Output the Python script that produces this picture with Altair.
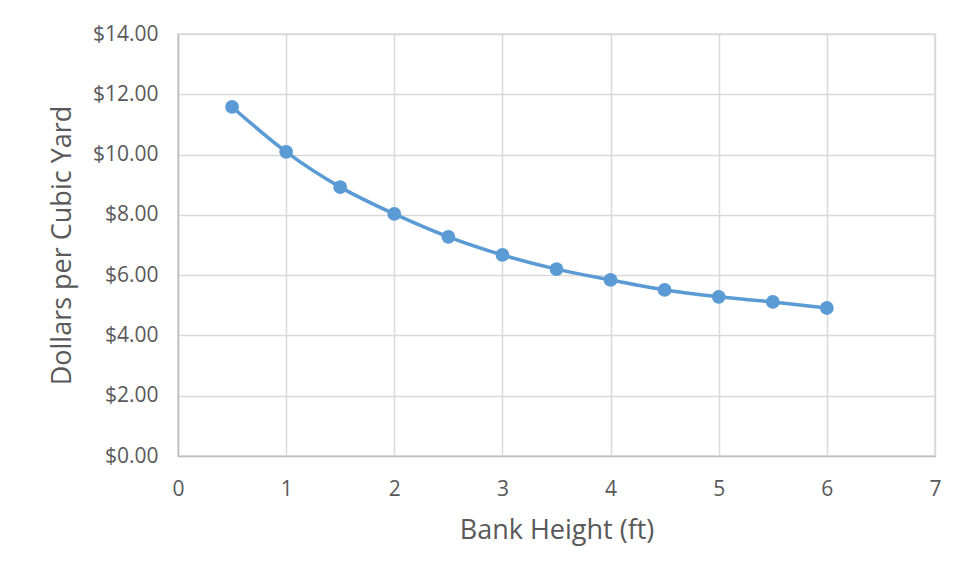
import altair as alt
import pandas as pd

bank_height = [0.5, 1.0, 1.5, 2.0, 2.5, 3.0, 3.5, 4.0, 4.5, 5.0, 5.5, 6.0]
dollars = [11.58, 10.09, 8.92, 8.03, 7.27, 6.67, 6.20, 5.84, 5.51, 5.28, 5.11, 4.91]

df = pd.DataFrame({"h": bank_height, "d": dollars})

FONT = "Open Sans"
BLUE = "#5B9BD5"

x = alt.X("h:Q", title="Bank Height (ft)",
          scale=alt.Scale(domain=[0, 7], nice=False, zero=True),
          axis=alt.Axis(values=[0, 1, 2, 3, 4, 5, 6, 7], format="d", grid=True,
                        ticks=False, labelPadding=22, titlePadding=18, labelFlush=False,
                        domainColor="#BFBFBF", domainWidth=1.5))
y = alt.Y("d:Q", title="Dollars per Cubic Yard",
          scale=alt.Scale(domain=[0, 14], nice=False),
          axis=alt.Axis(values=[0, 2, 4, 6, 8, 10, 12, 14], format="$.2f", grid=True,
                        ticks=False, labelPadding=20, titlePadding=16, labelFlush=False,
                        domainColor="#BFBFBF", domainWidth=1.5))

line = alt.Chart(df).mark_line(color=BLUE, strokeWidth=3.5, interpolate="monotone").encode(x=x, y=y)
pts = alt.Chart(df).mark_point(color=BLUE, filled=True, opacity=1, size=190).encode(x=x, y=y)

chart = (line + pts).properties(
    width=757, height=422,
    autosize=alt.AutoSizeParams(type="none"),
    padding={"left": 170, "top": 26, "right": 15, "bottom": 104},
    background="white",
).configure_view(stroke="#D9D9D9", strokeWidth=1.5).configure_axis(
    gridColor="#D9D9D9", gridWidth=1.5,
    labelFont=FONT, titleFont=FONT,
    labelFontSize=21, titleFontSize=27,
    labelColor="#595959", titleColor="#595959",
    titleFontWeight="normal",
)

chart.save("out.html", embed_options={"renderer": "svg", "actions": False})
